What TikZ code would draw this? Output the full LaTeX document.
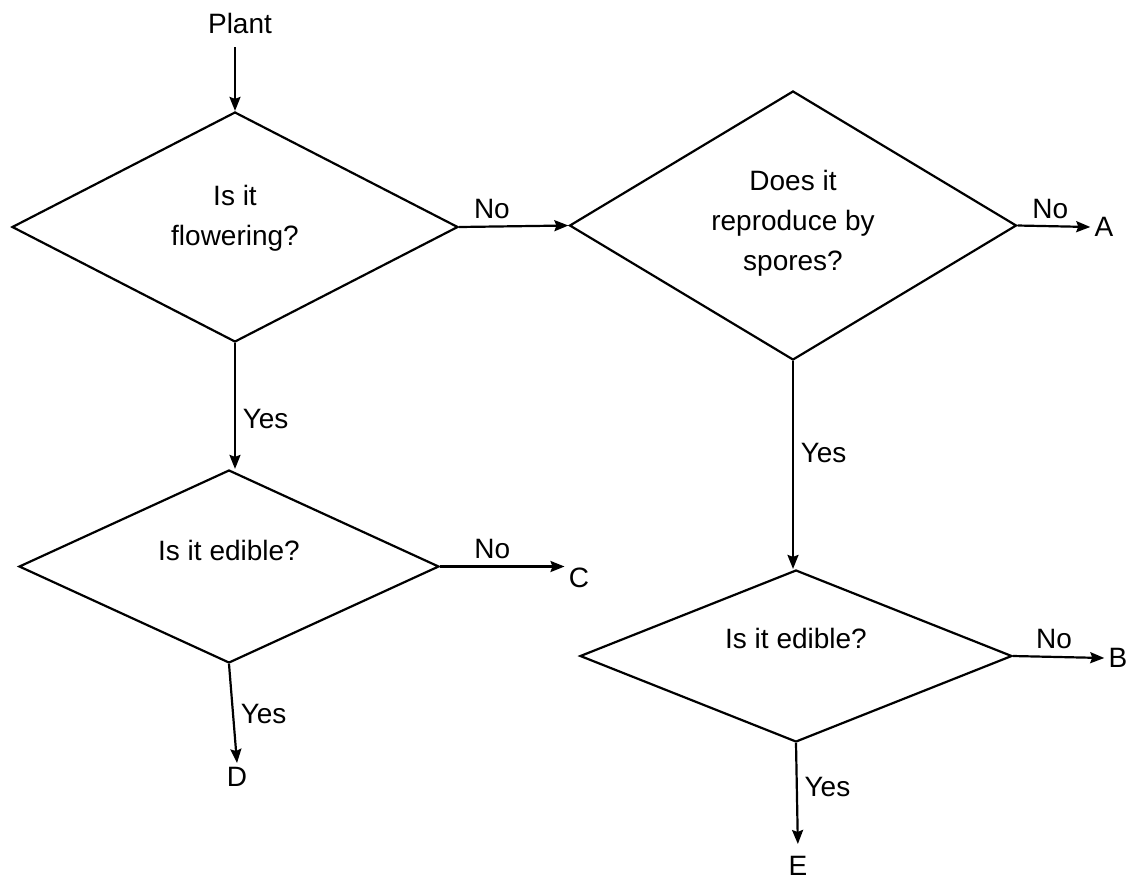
\documentclass[tikz,border=0pt]{standalone}
\usepackage{fontspec}
\setmainfont{Liberation Sans}
\usetikzlibrary{arrows.meta, shapes.geometric}

\begin{document}
\begin{tikzpicture}[x=0.5pt, y=-0.5pt, >={Stealth[length=7pt, width=5.5pt, inset=1pt]},
    decision/.style={diamond, draw, line width=1.1pt, inner sep=0pt},
    answer/.style={font=\fontsize{14}{20}\selectfont},
    endpoint/.style={answer, inner sep=2pt},
    flow/.style={->, line width=1.1pt}]
    \useasboundingbox (0,0) rectangle (1139,885);

    % Decisions
    \node[decision, minimum width=223pt, minimum height=115pt,
        label={[answer, align=center, yshift=4.5pt]center:Is it\\flowering?}] (flowering) at (235,227) {};
    \node[decision, minimum width=223.5pt, minimum height=134.5pt,
        label={[answer, align=center, yshift=1pt]center:Does it\\reproduce by\\spores?}] (spores) at (793,225.5) {};
    \node[decision, minimum width=210pt, minimum height=96.5pt,
        label={[answer, yshift=8pt]center:Is it edible?}] (edible1) at (229,566.5) {};
    \node[decision, minimum width=216pt, minimum height=86pt,
        label={[answer, yshift=9pt]center:Is it edible?}] (edible2) at (796,656) {};

    % Start and outcomes
    \node[answer] (plant) at (240,23) {Plant};
    \node[endpoint] (outA) at (1104,227) {A};
    \node[endpoint] (outB) at (1118,658) {B};
    \node[endpoint] (outC) at (579,578) {C};
    \node[endpoint] (outD) at (237,777) {D};
    \node[endpoint] (outE) at (798,866) {E};

    % Connectors
    \draw[flow, shorten <=3.5pt] (flowering.north |- plant.south) -- (flowering.north);
    \draw[flow] (flowering.east) -- node[answer, above, pos=0.3] {No} (spores.west);
    \draw[flow] (spores.east) -- node[answer, above, pos=0.45] {No} (outA.west);
    \draw[flow] (flowering.south) -- node[answer, right, pos=0.6] {Yes} (flowering.south |- edible1.north);
    \draw[flow] (spores.south) -- node[answer, right, pos=0.44] {Yes} (spores.south |- edible2.north);
    \draw[flow] (edible1.east) -- node[answer, above, pos=0.42] {No} (edible1.east -| outC.west);
    \draw[flow] (edible1.south) -- node[answer, right, pos=0.5] {Yes} (outD.north);
    \draw[flow] (edible2.east) -- node[answer, above, pos=0.45] {No} (outB.west);
    \draw[flow, shorten >=4pt] (edible2.south) -- node[answer, right, pos=0.4] {Yes} (outE.north);
\end{tikzpicture}
\end{document}
